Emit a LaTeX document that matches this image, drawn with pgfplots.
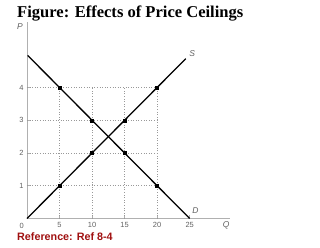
\documentclass[border=0pt]{standalone}
\usepackage{pgfplots}
\pgfplotsset{compat=1.18}
\usepackage{fontspec}
\setmainfont{Liberation Serif}
\setsansfont{Liberation Sans}
\definecolor{axgray}{HTML}{B0B0B0}
\definecolor{lblgray}{HTML}{606060}
\definecolor{refred}{HTML}{A01010}
\begin{document}
\begin{tikzpicture}[x=1bp,y=1bp]
\path[use as bounding box] (0,0) rectangle (320,248);
\node[anchor=base west, font=\bfseries\fontsize{16.6}{17}\selectfont, inner sep=0] at (17,230.7) {Figure: Effects of Price Ceilings};
\node[anchor=base west, font=\sffamily\bfseries\fontsize{10.8}{12}\selectfont, text=refred, inner sep=0] at (17,7.3) {Reference: Ref 8-4};
\begin{axis}[
  at={(27bp,29.5bp)}, anchor=south west,
  scale only axis, width=203bp, height=196.5bp,
  xmin=0, xmax=31.2, ymin=0, ymax=6,
  axis lines=left,
  axis line style={-, axgray, line width=0.8bp},
  xtick={5,10,15,20,25}, ytick={1,2,3,4},
  tick align=inside, major tick length=3bp,
  tick style={axgray, line width=0.6bp},
  tick label style={font=\sffamily\fontsize{7.5}{8}\selectfont, text=lblgray},
  /pgf/number format/assume math mode=true,
  xticklabel style={yshift=-0.5bp},
  clip=false,
]
% dotted grid
\addplot[dotted, gray!80, line width=0.6bp] coordinates {(0,1) (20,1)};
\addplot[dotted, gray!80, line width=0.6bp] coordinates {(0,2) (20,2)};
\addplot[dotted, gray!80, line width=0.6bp] coordinates {(0,3) (20,3)};
\addplot[dotted, gray!80, line width=0.6bp] coordinates {(0,4) (20,4)};
\addplot[dotted, gray!80, line width=0.6bp] coordinates {(5,0) (5,4)};
\addplot[dotted, gray!80, line width=0.6bp] coordinates {(10,0) (10,4)};
\addplot[dotted, gray!80, line width=0.6bp] coordinates {(15,0) (15,4)};
\addplot[dotted, gray!80, line width=0.6bp] coordinates {(20,0) (20,4)};
% supply
\addplot[black, line width=1.3bp] coordinates {(0,0) (24.4,4.88)};
\addplot[only marks, mark=square*, mark size=1.5bp, black] coordinates {(5,1) (10,2) (15,3) (20,4)};
% demand
\addplot[black, line width=1.3bp] coordinates {(0.1,4.98) (25,0)};
\addplot[only marks, mark=square*, mark size=1.5bp, black] coordinates {(5,4) (10,3) (15,2) (20,1)};
\node[font=\sffamily\itshape\fontsize{8.5}{9}\selectfont, text=lblgray] at (axis cs:25.4,5.05) {S};
\node[font=\sffamily\itshape\fontsize{8.5}{9}\selectfont, text=lblgray] at (axis cs:25.9,0.25) {D};
\node[font=\sffamily\itshape\fontsize{8.5}{9}\selectfont, text=lblgray] at (axis cs:-1.1,5.86) {P};
\node[font=\sffamily\itshape\fontsize{8.5}{9}\selectfont, text=lblgray] at (axis cs:30.6,-0.2) {Q};
\node[font=\sffamily\fontsize{7.5}{8}\selectfont, text=lblgray] at (axis cs:-0.8,-0.22) {0};
\end{axis}
\end{tikzpicture}
\end{document}
